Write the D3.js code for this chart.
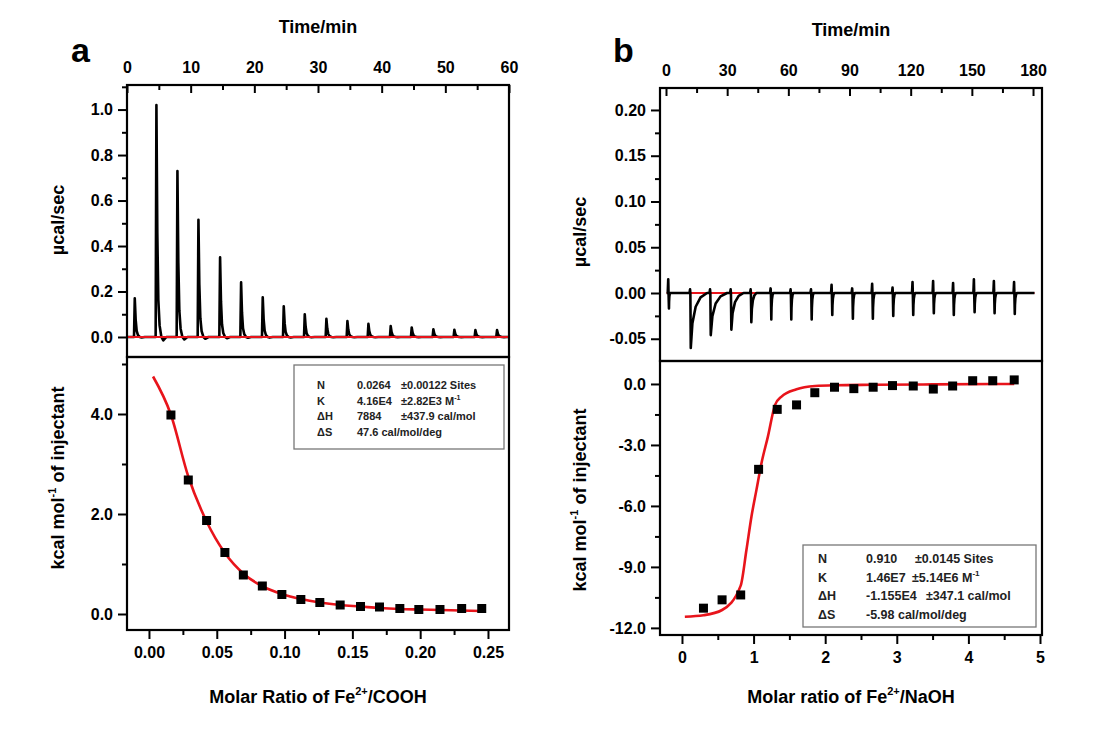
<!DOCTYPE html>
<html>
<head>
<meta charset="utf-8">
<script src="https://cdn.jsdelivr.net/npm/d3@7"></script>
<style>
body{margin:0;background:#fff;}
svg{font-family:"Liberation Sans",Arial,sans-serif;font-weight:bold;}
</style>
</head>
<body>
<svg id="chart" width="1103" height="740"></svg>
<script>
// panel a : raw heat (injections), integrated heats and fit
var injTimeA = [1.1, 4.5, 7.8, 11.1, 14.5, 17.8, 21.2, 24.5, 27.8, 31.2, 34.5, 37.8, 41.3, 44.6, 48.0, 51.3, 54.6, 58.0];
var peakA = [0.17, 1.02, 0.73, 0.515, 0.35, 0.24, 0.175, 0.135, 0.10, 0.08, 0.07, 0.058, 0.048, 0.042, 0.034, 0.032, 0.03, 0.03];
var ratioA = [0.0162, 0.029, 0.0425, 0.056, 0.0696, 0.0836, 0.098, 0.112, 0.126, 0.141, 0.156, 0.170, 0.185, 0.199, 0.2146, 0.2306, 0.2454];
var heatA = [3.98, 2.68, 1.87, 1.23, 0.78, 0.56, 0.39, 0.29, 0.23, 0.18, 0.15, 0.14, 0.11, 0.09, 0.09, 0.11, 0.11];
var fitRatioA = [0.003, 0.016, 0.029, 0.0425, 0.056, 0.07, 0.084, 0.098, 0.112, 0.126, 0.141, 0.156, 0.17, 0.185, 0.199, 0.215, 0.23, 0.246];
var fitHeatA = [4.75, 4.0, 2.75, 1.85, 1.22, 0.80, 0.55, 0.40, 0.30, 0.23, 0.18, 0.15, 0.12, 0.10, 0.09, 0.08, 0.07, 0.06];
var legendValA = ["0.0264", "4.16E4", "7884", "47.6 cal/mol/deg"];
var legendErrA = ["\u00b10.00122 Sites", "\u00b12.82E3 M", "\u00b1437.9 cal/mol", ""];

// panel b
var injTimeB = [1.1, 11.8, 21.6, 31.7, 41.5, 51.3, 61.1, 71.1, 81.2, 91.3, 101.1, 111.1, 120.9, 131, 140.8, 151, 160.8, 170.7];
var dipB = [0.017, 0.060, 0.046, 0.040, 0.032, 0.029, 0.029, 0.029, 0.024, 0.028, 0.028, 0.025, 0.024, 0.022, 0.024, 0.021, 0.022, 0.023];
var spikeB = [0.015, 0.004, 0.004, 0.004, 0.004, 0.005, 0.004, 0.004, 0.009, 0.005, 0.010, 0.006, 0.012, 0.013, 0.011, 0.015, 0.013, 0.012];
var tailB = [0.6, 8, 8, 6, 2.5, 1, 1, 1, 1, 1, 1, 1, 1, 1, 1, 1, 1, 1];
var ratioB = [0.30, 0.56, 0.82, 1.07, 1.33, 1.60, 1.855, 2.13, 2.40, 2.67, 2.94, 3.23, 3.51, 3.78, 4.06, 4.34, 4.64];
var heatB = [-11.03, -10.62, -10.38, -4.20, -1.25, -1.03, -0.43, -0.16, -0.23, -0.16, -0.08, -0.10, -0.25, -0.10, 0.16, 0.16, 0.20];
var fitRatioB = [0.04, 0.30, 0.56, 0.82, 0.90, 0.97, 1.04, 1.11, 1.20, 1.30, 1.39, 1.60, 1.86, 2.13, 2.67, 3.5, 4.64];
var fitHeatB = [-11.45, -11.38, -11.12, -9.92, -8.17, -6.53, -5.21, -3.9, -2.59, -1.03, -0.62, -0.26, -0.10, -0.06, -0.04, -0.02, 0.0];
var legendValB = ["0.910", "1.46E7", "-1.155E4", "-5.98 cal/mol/deg"];
var legendErrB = ["\u00b10.0145 Sites", "\u00b15.14E6 M", "\u00b1347.1 cal/mol", ""];
var legendKeys = ["N", "K", "\u0394H", "\u0394S"];

var svg = d3.select('#chart');
var red = '#e8141b';

function styleAxis(g, size){
	g.select('.domain').remove();
	g.selectAll('line').attr('stroke', '#000').attr('stroke-width', 2);
	g.selectAll('text').attr('fill', '#000').style('font-size', size + 'px').style('font-weight', 'bold');
}

// builds the thermogram of panel a from injection times and peak heights
function traceA(){
	var shape = [[-0.1,0],[0,0],[0.12,1],[0.26,0.45],[0.42,0.16],[0.62,0.05],[0.9,0],[1.2,-0.015],[1.7,0]];
	var pts = [[0,0]];
	injTimeA.forEach(function(t, i){
		shape.forEach(function(s){ pts.push([t + s[0], s[1]*peakA[i]]); });
	});
	pts.push([60,0]);
	return pts;
}
function traceB(){
	var pts = [[0.3,0]];
	injTimeB.forEach(function(t, i){
		var d = dipB[i], tl = tailB[i], t1 = t + 0.35;
		pts.push([t-0.25,0],[t,spikeB[i]],[t+0.15,0],[t1,-d],
			[t1+tl*0.1,-d*0.55],[t1+tl*0.3,-d*0.25],[t1+tl*0.6,-d*0.08],[t1+tl,0]);
	});
	pts.push([180.7,0]);
	return pts;
}

function drawPanel(p){
	var g = svg.append('g');
	var xT = d3.scaleLinear().domain(p.tDom).range([p.left, p.right]);
	var yT = d3.scaleLinear().domain(p.yTDom).range([p.mid, p.top]);
	var xR = d3.scaleLinear().domain(p.xRDom).range([p.left, p.right]);
	var yR = d3.scaleLinear().domain(p.yRDom).range([p.bottom, p.mid]);

	// top time axis, ticks inward
	g.append('g').attr('transform', 'translate(0,' + p.top + ')')
		.call(d3.axisTop(xT).tickValues(p.tMajor).tickSize(-8).tickPadding(12))
		.call(styleAxis, 16);
	g.append('g').attr('transform', 'translate(0,' + p.top + ')')
		.call(d3.axisTop(xT).tickValues(p.tMinor).tickFormat('').tickSize(-5))
		.call(styleAxis, 16);

	// left axes
	g.append('g').attr('transform', 'translate(' + p.left + ',0)')
		.call(d3.axisLeft(yT).tickValues(p.yTMajor).tickFormat(p.yTFmt).tickSize(9).tickPadding(5))
		.call(styleAxis, 16);
	g.append('g').attr('transform', 'translate(' + p.left + ',0)')
		.call(d3.axisLeft(yT).tickValues(p.yTMinor).tickFormat('').tickSize(5))
		.call(styleAxis, 16);
	g.append('g').attr('transform', 'translate(' + p.left + ',0)')
		.call(d3.axisLeft(yR).tickValues(p.yRMajor).tickFormat(function(d){return d.toFixed(1)}).tickSize(9).tickPadding(5))
		.call(styleAxis, 16);
	g.append('g').attr('transform', 'translate(' + p.left + ',0)')
		.call(d3.axisLeft(yR).tickValues(p.yRMinor).tickFormat('').tickSize(5))
		.call(styleAxis, 16);

	// bottom ratio axis
	g.append('g').attr('transform', 'translate(0,' + p.bottom + ')')
		.call(d3.axisBottom(xR).tickValues(p.xRMajor).tickFormat(p.xRFmt).tickSize(9).tickPadding(8))
		.call(styleAxis, 16);
	g.append('g').attr('transform', 'translate(0,' + p.bottom + ')')
		.call(d3.axisBottom(xR).tickValues(p.xRMinor).tickFormat('').tickSize(5))
		.call(styleAxis, 16);

	// thermogram (red baseline under or over the trace)
	var line = d3.line().x(function(d){return xT(d[0])}).y(function(d){return yT(d[1])});
	function drawBase(){
		g.append('path').attr('d', line(p.base))
			.attr('fill', 'none').attr('stroke', red).attr('stroke-width', 1.8);
	}
	if (!p.redOnTop) drawBase();
	g.append('path').attr('d', line(p.trace))
		.attr('fill', 'none').attr('stroke', '#000').attr('stroke-width', p.traceW).attr('stroke-linejoin', 'round');
	if (p.redOnTop) drawBase();

	// integrated heats + fit
	var fit = d3.line().curve(d3.curveMonotoneX)
		.x(function(d){return xR(d[0])}).y(function(d){return yR(d[1])});
	g.append('path').attr('d', fit(d3.zip(p.fitX, p.fitY)))
		.attr('fill', 'none').attr('stroke', red).attr('stroke-width', 2.6);
	g.selectAll('rect.pt').data(d3.zip(p.ptX, p.ptY)).enter()
		.append('rect').attr('class', 'pt')
		.attr('x', function(d){return xR(d[0]) - 4.5})
		.attr('y', function(d){return yR(d[1]) - 4.5})
		.attr('width', 9).attr('height', 9).attr('fill', '#000');

	// frames
	g.append('rect').attr('x', p.left).attr('y', p.top).attr('width', p.right - p.left).attr('height', p.mid - p.top)
		.attr('fill', 'none').attr('stroke', '#000').attr('stroke-width', 2.2);
	g.append('rect').attr('x', p.left).attr('y', p.mid).attr('width', p.right - p.left).attr('height', p.bottom - p.mid)
		.attr('fill', 'none').attr('stroke', '#000').attr('stroke-width', 2.2);

	// legend box
	var L = p.legend;
	g.append('rect').attr('x', L.x).attr('y', L.y).attr('width', L.w).attr('height', L.h)
		.attr('fill', '#fff').attr('stroke', '#777').attr('stroke-width', 1.3);
	legendKeys.forEach(function(k, i){
		var y = L.row0 + i*L.step;
		g.append('text').attr('x', L.kx).attr('y', y).text(k).style('font-size', L.fs + 'px').attr('fill', '#222');
		g.append('text').attr('x', L.vx).attr('y', y).text(p.vals[i]).style('font-size', L.fs + 'px').attr('fill', '#222');
		var e = g.append('text').attr('x', L.ex[i]).attr('y', y).text(p.errs[i]).style('font-size', L.fs + 'px').attr('fill', '#222');
		if (k == 'K') e.append('tspan').attr('dy', -L.fs*0.45).style('font-size', (L.fs*0.65) + 'px').text('-1');
	});

	// titles
	g.append('text').attr('x', p.letter[0]).attr('y', p.letter[1]).text(p.name).style('font-size', '34px');
	g.append('text').attr('x', (p.left + p.right)/2).attr('y', p.top - 52).attr('text-anchor', 'middle')
		.text('Time/min').style('font-size', '18px');
	g.append('text').attr('transform', 'translate(' + p.ylx + ',' + p.yl1 + ') rotate(-90)')
		.attr('text-anchor', 'middle').attr('dy', '0.35em').text('\u00b5cal/sec').style('font-size', '18px');
	var kt = g.append('text').attr('transform', 'translate(' + p.ylx + ',' + p.yl2 + ') rotate(-90)')
		.attr('text-anchor', 'middle').attr('dy', '0.35em').style('font-size', '18px');
	kt.append('tspan').text('kcal mol');
	kt.append('tspan').attr('dy', -8).style('font-size', '11px').text('-1');
	kt.append('tspan').attr('dy', 8).text(' of injectant');
	var xt = g.append('text').attr('x', (p.left + p.right)/2).attr('y', 703).attr('text-anchor', 'middle')
		.style('font-size', '18px');
	xt.append('tspan').text(p.xlab[0]);
	xt.append('tspan').attr('dy', -8).style('font-size', '11px').text('2+');
	xt.append('tspan').attr('dy', 8).text(p.xlab[1]);
}

drawPanel({
	name: 'a', letter: [71, 62],
	left: 127, right: 509, top: 85, mid: 357, bottom: 630,
	tDom: [0, 60], tMajor: d3.range(0, 61, 10), tMinor: d3.range(5, 60, 10),
	yTDom: [-0.088, 1.108], yTMajor: [0, 0.2, 0.4, 0.6, 0.8, 1.0], yTMinor: [0.1, 0.3, 0.5, 0.7, 0.9, 1.1],
	yTFmt: function(d){return d.toFixed(1)},
	xRDom: [-0.0162, 0.2655], xRMajor: [0, 0.05, 0.10, 0.15, 0.20, 0.25], xRMinor: [0.025, 0.075, 0.125, 0.175, 0.225],
	xRFmt: function(d){return d.toFixed(2)},
	yRDom: [-0.32, 5.14], yRMajor: [0, 2, 4], yRMinor: [1, 3, 5],
	trace: traceA(), base: [[0, 0], [60, 0]], traceW: 2.6, redOnTop: true,
	fitX: fitRatioA, fitY: fitHeatA, ptX: ratioA, ptY: heatA,
	vals: legendValA, errs: legendErrA,
	legend: {x: 294, y: 365, w: 210, h: 84, row0: 389, step: 15.5, kx: 317, vx: 357, ex: [401, 401, 401, 401], fs: 11},
	ylx: 58, yl1: 220, yl2: 478,
	xlab: ['Molar Ratio of Fe', '/COOH']
});

drawPanel({
	name: 'b', letter: [613, 62],
	left: 660, right: 1042, top: 88, mid: 361, bottom: 635,
	tDom: [-2.94, 184.4], tMajor: d3.range(0, 181, 30), tMinor: d3.range(15, 180, 30),
	yTDom: [-0.0743, 0.224], yTMajor: [-0.05, 0, 0.05, 0.10, 0.15, 0.20], yTMinor: [-0.025, 0.025, 0.075, 0.125, 0.175],
	yTFmt: function(d){return d.toFixed(2)},
	xRDom: [-0.307, 5.028], xRMajor: [0, 1, 2, 3, 4, 5], xRMinor: [0.5, 1.5, 2.5, 3.5, 4.5],
	xRFmt: function(d){return d.toFixed(0)},
	yRDom: [-12.35, 1.13], yRMajor: [0, -3, -6, -9, -12], yRMinor: [-1.5, -4.5, -7.5, -10.5],
	trace: traceB(), base: [[0.3, 0], [180.7, 0]], traceW: 2.6, redOnTop: false,
	fitX: fitRatioB, fitY: fitHeatB, ptX: ratioB, ptY: heatB,
	vals: legendValB, errs: legendErrB,
	legend: {x: 803, y: 545, w: 233, h: 82, row0: 563, step: 18.5, kx: 818, vx: 866, ex: [915, 912, 926, 926], fs: 12.5},
	ylx: 580, yl1: 232, yl2: 500,
	xlab: ['Molar ratio of Fe', '/NaOH']
});
</script>
</body>
</html>
